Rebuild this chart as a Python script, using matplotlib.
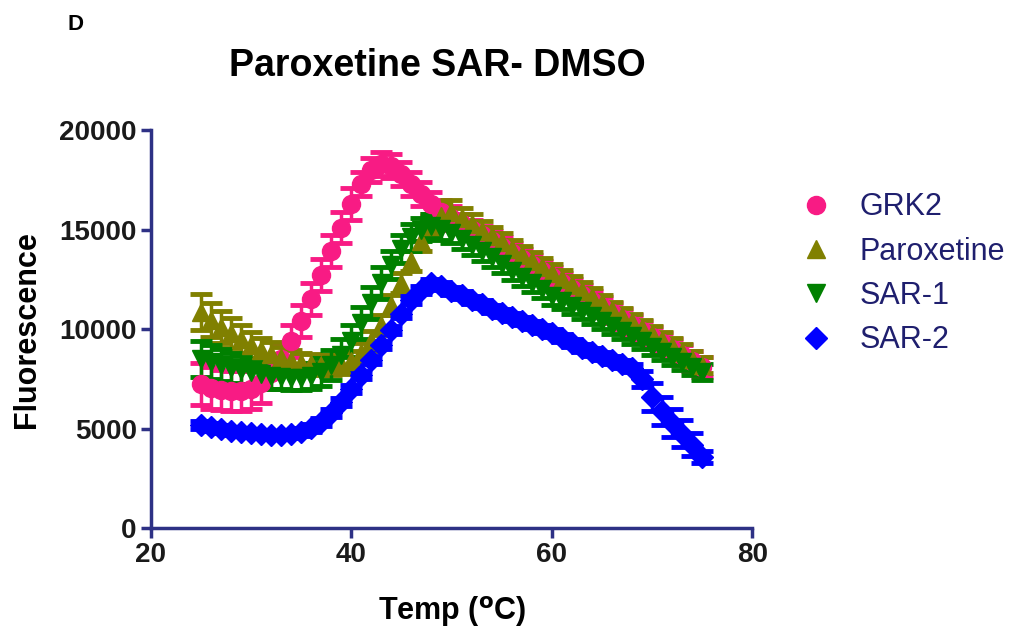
import numpy as np
import matplotlib.pyplot as plt

temp = list(range(25, 76))

grk2 = [7250, 7050, 6950, 6900, 6900, 7000, 7300, 7800, 8500, 9400,
        10400, 11500, 12700, 13900, 15100, 16300, 17300, 18000, 18300, 18200,
        17800, 17300, 16800, 16300, 15900, 15600, 15300, 15000, 14700, 14400,
        14100, 13800, 13500, 13200, 12900, 12600, 12300, 12000, 11700, 11400,
        11100, 10800, 10500, 10200, 9900, 9600, 9300, 9000, 8700, 8400, 8100]
grk2_err = [1050, 1050, 1000, 1000, 1000, 1000, 1000, 800, 800, 800,
            800, 800, 800, 800, 800, 800, 600, 600, 600, 600,
            600, 600, 600, 600, 600, 600, 500, 500, 500, 500,
            500, 500, 500, 500, 500, 500, 500, 500, 500, 500,
            500, 500, 500, 500, 500, 500, 500, 500, 500, 500, 500]

parox = [10850, 10450, 10100, 9800, 9500, 9200, 8950, 8750, 8550, 8400,
         8300, 8250, 8200, 8200, 8250, 8400, 8800, 9400, 10200, 11200,
         12300, 13400, 14400, 15200, 15700, 15900, 15600, 15300, 14950, 14650,
         14350, 14000, 13700, 13400, 13100, 12800, 12500, 12200, 11900, 11600,
         11300, 10950, 10650, 10350, 10050, 9750, 9450, 9150, 8850, 8500, 8200]
parox_err = [900, 850, 800, 750, 700, 650, 600, 600, 550, 550,
             500, 500, 500, 500, 500, 500, 500, 500, 500, 500,
             500, 500, 500, 600, 600, 600, 500, 500, 500, 500,
             450, 450, 450, 450, 450, 450, 450, 450, 450, 450,
             400, 400, 400, 400, 400, 400, 400, 400, 400, 400, 400]

sar1 = [8500, 8350, 8200, 8050, 7950, 7850, 7750, 7650, 7600, 7550,
        7550, 7650, 7850, 8200, 8700, 9400, 10300, 11300, 12300, 13200,
        14000, 14600, 15000, 15200, 15050, 14800, 14500, 14200, 13900, 13600,
        13250, 12900, 12600, 12300, 12000, 11650, 11400, 11150, 10900, 10650,
        10400, 10150, 9900, 9650, 9400, 9100, 8850, 8600, 8350, 8100, 7850]
sar1_err = [900, 850, 800, 750, 700, 650, 650, 650, 600, 600,
            600, 650, 700, 750, 800, 800, 800, 800, 800, 700,
            700, 700, 600, 600, 600, 500, 500, 500, 500, 500,
            450, 450, 450, 450, 450, 450, 400, 400, 400, 400,
            400, 400, 400, 400, 400, 400, 400, 400, 400, 400, 400]

sar2 = [5200, 5100, 5000, 4900, 4850, 4800, 4750, 4700, 4700, 4750,
        4850, 5050, 5350, 5800, 6350, 7000, 7700, 8450, 9200, 9950,
        10750, 11450, 11950, 12300, 12150, 11900, 11700, 11450, 11250, 11000,
        10800, 10600, 10400, 10200, 10000, 9800, 9550, 9300, 9050, 8850,
        8650, 8450, 8250, 8050, 7500, 6600, 5900, 5300, 4750, 4200, 3550]
sar2_err = [200] * 44 + [400, 700, 700, 700, 700, 600, 300]

names = ['GRK2', 'Paroxetine', 'SAR-1', 'SAR-2']
colors = ['#F81B84', '#808000', '#008000', '#0000FF']
markers = ['o', '^', 'v', 'D']
msizes = [13, 13, 13, 11]

axcol = '#2E3185'
plt.rcParams['font.family'] = ['Liberation Sans', 'DejaVu Sans']

fig = plt.figure(figsize=(10.18, 6.34), dpi=100)
ax = fig.add_axes([0.148, 0.167, 0.591, 0.628])

series = [(grk2, grk2_err), (parox, parox_err), (sar1, sar1_err), (sar2, sar2_err)]
for (y, e), name, c, m, ms in zip(series, names, colors, markers, msizes):
    ax.errorbar(temp, y, yerr=e, fmt=m, color=c, ms=ms, mec=c,
                elinewidth=2.5, capsize=8, capthick=3.5, label=name)

ax.set_xlim(20, 80)
ax.set_ylim(0, 20000)
ax.set_xticks([20, 40, 60, 80])
ax.set_yticks([0, 5000, 10000, 15000, 20000])
for s in ['top', 'right']:
    ax.spines[s].set_visible(False)
for s in ['left', 'bottom']:
    ax.spines[s].set_color(axcol)
    ax.spines[s].set_linewidth(2.5)
    ax.spines[s].set_clip_on(False)
ax.tick_params(direction='out', length=7, width=2.5, color=axcol,
               labelsize=20, labelcolor='#1a1a1a', pad=3)
for lab in ax.get_xticklabels() + ax.get_yticklabels():
    lab.set_fontweight('bold')

fig.text(0.43, 0.896, 'Paroxetine SAR- DMSO', fontsize=27, fontweight='bold',
         ha='center', va='center')
fig.text(0.027, 0.48, 'Fluorescence', fontsize=22, fontweight='bold',
         rotation=90, ha='center', va='center')
fig.text(0.444, 0.035, r'Temp ($^{\mathbf{o}}$C)', fontsize=22, fontweight='bold',
         ha='center', va='center')
fig.text(0.066, 0.961, 'D', fontsize=16, fontweight='bold', va='center')

handles, labels = ax.get_legend_handles_labels()
handles = [h[0] for h in handles]
leg = fig.legend(handles, labels, loc='upper left', bbox_to_anchor=(0.775, 0.716),
                 frameon=False, fontsize=22, handletextpad=0.9, labelspacing=0.47,
                 handlelength=1.0, borderaxespad=0)
for t in leg.get_texts():
    t.set_color('#1f1f6e')

fig.savefig('out.png', dpi=100)
